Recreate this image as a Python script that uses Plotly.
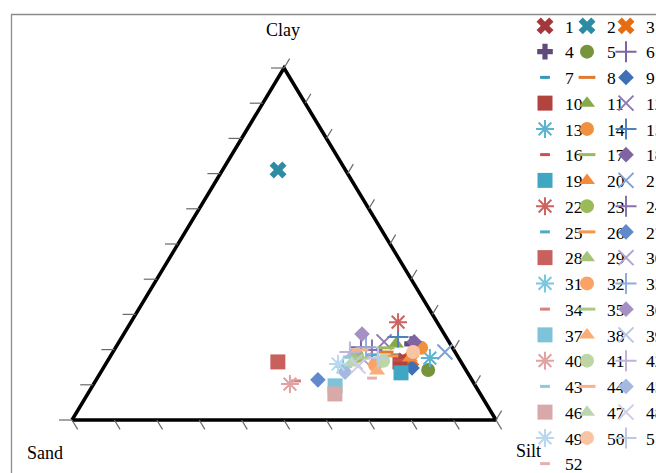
import plotly.graph_objects as go

# ---------------- data (percent) ----------------
sample_ids = [str(i) for i in range(1, 53)]
clay = [16.8, 71.0, 17.0, 21.6, 14.2, 20.7, 18.5, 19.3, 14.8, 16.5,
        21.6, 22.2, 17.6, 20.5, 23.6, 17.0, 20.5, 22.2, 13.4, 17.6,
        19.3, 27.8, 18.2, 19.9, 18.5, 18.2, 11.4, 16.5, 18.5, 17.0,
        15.1, 15.6, 20.7, 11.1, 17.6, 24.4, 9.7, 13.9, 16.5, 10.2,
        16.8, 19.3, 17.9, 19.9, 13.6, 7.4, 16.2, 15.3, 15.9, 19.3,
        17.6, 11.9]
silt = [69.9, 13.1, 71.4, 69.4, 76.9, 57.8, 67.0, 64.2, 72.8, 69.1,
        65.6, 62.5, 75.6, 72.1, 65.1, 68.4, 63.8, 69.6, 70.9, 70.9,
        78.3, 63.0, 58.1, 60.8, 61.5, 65.9, 52.3, 40.3, 56.8, 60.4,
        56.4, 63.7, 59.0, 47.3, 59.6, 56.2, 57.2, 65.0, 58.5, 46.3,
        65.0, 55.9, 56.1, 58.0, 57.6, 58.3, 57.9, 59.8, 54.8, 70.8,
        63.4, 64.8]
sand = [round(100 - c - s, 1) for c, s in zip(clay, silt)]

tick_values = list(range(0, 101, 10))
axis_titles = {"clay": "Clay", "sand": "Sand", "silt": "Silt"}

# ---------------- styles ----------------
marker_kinds = (["xbold", "xbold", "xbold", "cross", "circle", "plus", "short", "long"]
                + ["diamond", "square", "triangle", "xthin", "asterisk",
                   "circle", "plus", "short", "long"] * 5)[:52]
colors = ["#A4373A", "#2D8CA3", "#E66C12", "#604A7B", "#77933C", "#8064A2",
          "#3399BB", "#E07A2E", "#3F6FB5", "#B3433F", "#86AA4A", "#8F7AB5",
          "#5BB5D0", "#F0913F", "#4F81BD", "#C8504D", "#9BBB59", "#8064A2",
          "#3FA6C4", "#F58A3C", "#7FA0D8", "#CD6461", "#9BBB59", "#8A70AE",
          "#4BACC6", "#F79646", "#5F8ACB", "#C8605E", "#A5C47A", "#B1A2D0",
          "#7AC7E0", "#F9A466", "#8FACDB", "#D8807E", "#A9C98B", "#A391C3",
          "#7FC3DA", "#F9AE78", "#B9C6E6", "#E0A2A2", "#BDD6A4", "#C0B2D8",
          "#8CC8DE", "#F8B08A", "#A4B8E0", "#D9A8A8", "#BCD7B0", "#D3CCE4",
          "#B8D8EE", "#F9C4A4", "#BBC9E8", "#E6AFAF"]
kind_style = {
    "xbold": dict(symbol="x", size=15, lw=0),
    "cross": dict(symbol="cross", size=13, lw=0),
    "circle": dict(symbol="circle", size=14, lw=0),
    "plus": dict(symbol="cross-thin-open", size=15, lw=2),
    "short": dict(symbol="line-ew-open", size=7, lw=3),
    "long": dict(symbol="line-ew-open", size=12, lw=3),
    "diamond": dict(symbol="diamond", size=12, lw=0),
    "square": dict(symbol="square", size=15, lw=0),
    "triangle": dict(symbol="triangle-up", size=14, lw=0),
    "xthin": dict(symbol="x-thin-open", size=15, lw=2),
    "asterisk": dict(symbol="asterisk-open", size=15, lw=2),
}

FONT = "Liberation Serif, Times New Roman, serif"
W, H = 656, 473
XPX, YPX = 4.24, 3.52      # px per percent unit along the cartesian axes
X0PX, Y0PX = 72, 420       # pixel of the sand corner


def to_xy(c, s):
    """ternary (clay, silt) -> cartesian; sand corner at origin"""
    return s + c / 2.0, c


fig = go.Figure()

# triangle outline through the three pure end-members (sand, silt, clay)
corners = [(0, 0), (0, 100), (100, 0), (0, 0)]
tx, ty = zip(*[to_xy(c, s) for c, s in corners])
fig.add_trace(go.Scatter(x=tx, y=ty, mode="lines", line=dict(color="black", width=3.5),
                         hoverinfo="skip", showlegend=False))

# tick marks
tkx, tky = [], []
for v in tick_values:                       # clay ticks: left edge, horizontal
    x0, y0 = to_xy(v, 0)
    tkx += [x0, x0 - 13 / XPX, None]
    tky += [y0, y0, None]
L = 11 / ((50 * XPX) ** 2 + (100 * YPX) ** 2) ** 0.5
for v in tick_values:                       # sand ticks: bottom edge, down-right
    x0, y0 = to_xy(0, 100 - v)
    tkx += [x0, x0 + 50 * L, None]
    tky += [y0, y0 - 100 * L, None]
for v in tick_values:                       # silt ticks: right edge, up-right
    x0, y0 = to_xy(100 - v, v)
    tkx += [x0, x0 + 50 * L, None]
    tky += [y0, y0 + 100 * L, None]
fig.add_trace(go.Scatter(x=tkx, y=tky, mode="lines", line=dict(color="#6a6a6a", width=1.2),
                         hoverinfo="skip", showlegend=False))

# samples
legend_names = ["legend", "legend2", "legend3"]
for i, sid in enumerate(sample_ids):
    st = kind_style[marker_kinds[i]]
    x, y = to_xy(clay[i], silt[i])
    fig.add_trace(go.Scatter(
        x=[x], y=[y], mode="markers", name=sid,
        legend=legend_names[i % 3], legendgroup=sid,
        marker=dict(symbol=st["symbol"], size=st["size"], color=colors[i],
                    line=dict(width=st["lw"], color=colors[i])),
        customdata=[[clay[i], sand[i], silt[i]]],
        hovertemplate="Clay %{customdata[0]}<br>Sand %{customdata[1]}<br>Silt %{customdata[2]}<extra>" + sid + "</extra>",
    ))


def px_x(X):
    return X / W


def px_y(Y):
    return 1 - Y / H


leg_common = dict(orientation="v", yanchor="top", xanchor="left",
                  font=dict(family=FONT, size=17.5, color="black"),
                  bgcolor="rgba(0,0,0,0)", traceorder="normal",
                  tracegroupgap=0, itemsizing="trace", maxheight=900)
col_marker_px = [545, 587, 626]

fig.update_layout(
    width=W, height=H,
    margin=dict(l=0, r=0, t=0, b=0, autoexpand=False),
    paper_bgcolor="white", plot_bgcolor="white",
    xaxis=dict(range=[-X0PX / XPX, (W - X0PX) / XPX], visible=False, fixedrange=True),
    yaxis=dict(range=[-(H - Y0PX) / YPX, Y0PX / YPX], visible=False, fixedrange=True),
    showlegend=True,
    legend=dict(x=px_x(col_marker_px[0] - 20), y=px_y(8), **leg_common),
    legend2=dict(x=px_x(col_marker_px[1] - 20), y=px_y(8), **leg_common),
    legend3=dict(x=px_x(col_marker_px[2] - 20), y=px_y(8), **leg_common),
    font=dict(family=FONT, size=17, color="black"),
    shapes=[dict(type="rect", xref="paper", yref="paper",
                 x0=px_x(11.5), x1=1.2, y0=-0.2, y1=px_y(14.5),
                 line=dict(color="#8c8c8c", width=1.3), fillcolor="rgba(0,0,0,0)", layer="below")],
    annotations=[
        dict(text=axis_titles["clay"], xref="paper", yref="paper", x=px_x(283), y=px_y(30),
             xanchor="center", yanchor="middle", showarrow=False, font=dict(family=FONT, size=18)),
        dict(text=axis_titles["sand"], xref="paper", yref="paper", x=px_x(45), y=px_y(453),
             xanchor="center", yanchor="middle", showarrow=False, font=dict(family=FONT, size=18)),
        dict(text=axis_titles["silt"], xref="paper", yref="paper", x=px_x(528), y=px_y(451),
             xanchor="center", yanchor="middle", showarrow=False, font=dict(family=FONT, size=18)),
    ],
)

fig.write_html("out.html", config={"displayModeBar": False},
               post_script="document.body.style.margin='0';document.body.style.overflow='hidden';")
